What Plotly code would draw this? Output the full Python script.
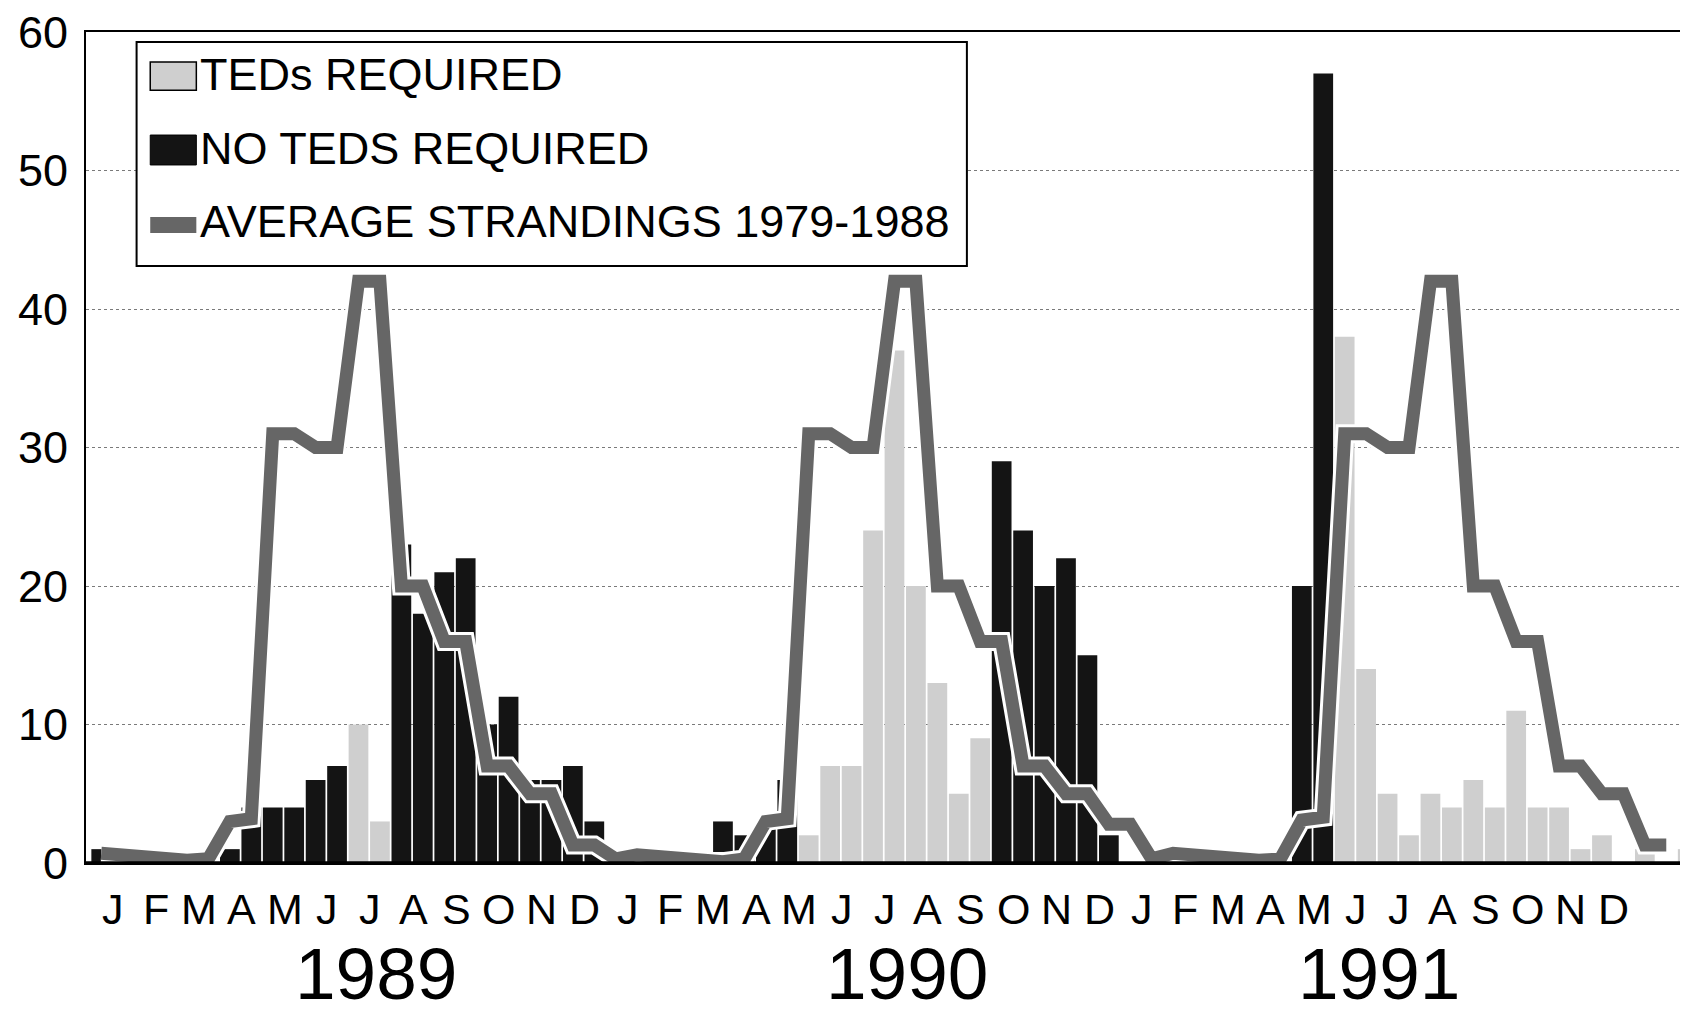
import plotly.graph_objects as go

# semi-monthly strandings, Jan 1989 .. (75 periods on the axis)
teds_required = [
    0, 0, 0, 0, 0, 0, 0, 0, 0, 0, 0, 0, 10, 3, 0, 0, 0, 0, 0, 0, 0, 0, 0, 0,
    0, 0, 0, 0, 0, 0, 0, 0, 0, 2, 7, 7, 24, 37, 20, 13, 5, 9, 0, 0, 0, 0, 0, 0,
    0, 0, 0, 0, 0, 0, 0, 0, 0, 0, 38, 14, 5, 2, 5, 4, 6, 4, 11, 4, 4, 1, 2, 0,
    1, 0, 1,
]
no_teds_required = [
    1, 0, 1, 0, 0, 0, 1, 4, 4, 4, 6, 7, 0, 0, 23, 18, 21, 22, 10, 12, 6, 6, 7, 3,
    1, 0, 0, 0, 0, 3, 2, 3, 6, 0, 0, 0, 0, 0, 0, 0, 0, 0, 29, 24, 20, 22, 15, 2,
    0, 0, 0, 0, 0, 0, 0, 0, 20, 57, 0, 0, 0, 0, 0, 0, 0, 0, 0, 0, 0, 0, 0, 0,
    0, 0, 0,
]
avg_1979_1988 = [
    0.7, 0.6, 0.3, 0.2, 0.2, 0.3, 3.0, 3.2, 31, 31, 30, 30, 42, 42, 20, 20, 16, 16, 7, 7, 5, 5, 1.3, 1.3, 0.3,
    0.6, 0.5, 0.2, 0.1, 0.1, 0.3, 3.0, 3.2, 31, 31, 30, 30, 42, 42, 20, 20, 16, 16, 7, 7, 5, 5, 2.8, 2.8, 0.3,
    0.7, 0.6, 0.3, 0.2, 0.2, 0.3, 3.1, 3.3, 31, 31, 30, 30, 42, 42, 20, 20, 16, 16, 7, 7, 5, 5, 1.3, 1.3,
]
month_letters = ["J", "F", "M", "A", "M", "J", "J", "A", "S", "O", "N", "D"]
years = ["1989", "1990", "1991"]
year_pos = [12.8, 37.6, 59.6]
y_ticks = [0, 10, 20, 30, 40, 50, 60]

FONT = "Liberation Sans, Arial, sans-serif"
LIGHT = "#cfcfcf"
DARK = "#141414"
LINE = "#666666"

fig = go.Figure()
x_bars = list(range(len(teds_required)))
fig.add_trace(go.Bar(x=x_bars, y=teds_required, width=0.92, marker=dict(color=LIGHT, line=dict(width=0)),
                     name="TEDs REQUIRED"))
fig.add_trace(go.Bar(x=x_bars, y=no_teds_required, width=0.92, marker=dict(color=DARK, line=dict(width=0)),
                     name="NO TEDS REQUIRED"))
x_avg = list(range(len(avg_1979_1988)))
# white halo under the thick grey line
fig.add_trace(go.Scatter(x=x_avg, y=avg_1979_1988, mode="lines", line=dict(color="white", width=19),
                         hoverinfo="skip", showlegend=False))
fig.add_trace(go.Scatter(x=x_avg, y=avg_1979_1988, mode="lines", line=dict(color=LINE, width=13),
                         name="AVERAGE STRANDINGS 1979-1988"))

ann = []
# y tick labels (as text so the top "60" is not dropped)
for v in y_ticks:
    ann.append(dict(x=-0.0099, y=v, xref="paper", yref="y", text=str(v), showarrow=False,
                    xanchor="right", yanchor="middle", font=dict(size=45, color="black", family=FONT)))

# month letters and years below the plot
for y_i in range(len(years)):
    for m, letter in enumerate(month_letters):
        ann.append(dict(x=(y_i * 12 + m) * 2 + 0.55, y=-0.055, xref="x", yref="paper", text=letter,
                        showarrow=False, yanchor="middle", font=dict(size=43, color="black", family=FONT)))
    ann.append(dict(x=year_pos[y_i], y=-0.1335, xref="x", yref="paper", text=years[y_i],
                    showarrow=False, yanchor="middle", font=dict(size=73, color="black", family=FONT)))

# hand-made legend
shapes = [
    dict(type="rect", xref="paper", yref="paper", x0=0.0315, x1=0.5485, y0=0.7184, y1=0.9880,
         fillcolor="white", line=dict(color="black", width=2), layer="above"),
    dict(type="rect", xref="paper", yref="paper", x0=0.0400, x1=0.0687, y0=0.9300, y1=0.9640,
         fillcolor=LIGHT, line=dict(color="black", width=1.5), layer="above"),
    dict(type="rect", xref="paper", yref="paper", x0=0.0400, x1=0.0687, y0=0.8400, y1=0.8760,
         fillcolor=DARK, line=dict(color="black", width=1), layer="above"),
    dict(type="rect", xref="paper", yref="paper", x0=0.0400, x1=0.0687, y0=0.7580, y1=0.7775,
         fillcolor=LINE, line=dict(width=0), layer="above"),
    dict(type="line", xref="paper", yref="paper", x0=0, x1=1, y0=0, y1=0,
         line=dict(color="black", width=3.5), layer="above"),
]
legend_text = ["TEDs REQUIRED", "NO TEDS REQUIRED", "AVERAGE STRANDINGS 1979-1988"]
legend_y = [0.9490, 0.8600, 0.7715]
for t, yy in zip(legend_text, legend_y):
    ann.append(dict(x=0.0700, y=yy, xref="paper", yref="paper", text=t, showarrow=False,
                    xanchor="left", yanchor="middle", font=dict(size=45, color="black", family=FONT)))

fig.update_layout(
    width=1688, height=1012,
    margin=dict(l=78, r=2, t=24, b=157),
    plot_bgcolor="white", paper_bgcolor="white",
    barmode="overlay", bargap=0.08,
    showlegend=False,
    font=dict(family=FONT, color="black"),
    annotations=ann, shapes=shapes,
    xaxis=dict(range=[-0.71, 74.2], showgrid=False, zeroline=False, showticklabels=False,
               showline=True, linecolor="black", linewidth=2, mirror=True, ticks=""),
    yaxis=dict(range=[0, 60], tickvals=y_ticks, showgrid=True, showticklabels=False,
               gridcolor="#7a7a7a", griddash="dot", gridwidth=1, zeroline=False,
               showline=True, linecolor="black", linewidth=2, mirror=True, ticks=""),
)

fig.write_html("out.html")
